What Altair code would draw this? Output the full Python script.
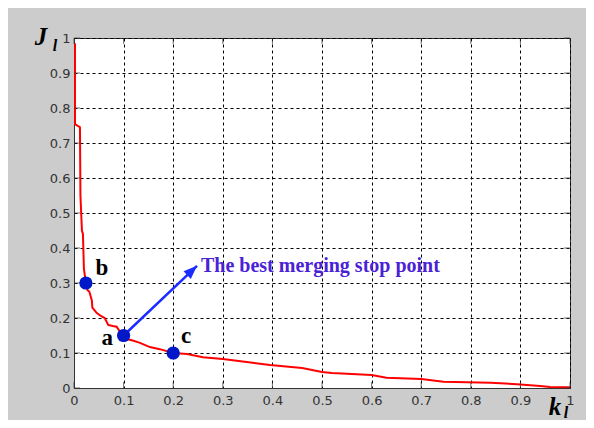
import altair as alt
import pandas as pd

# Curve J_l versus k_l
k_vals = [0.002, 0.002, 0.012, 0.013, 0.016, 0.018, 0.020, 0.024, 0.027, 0.031, 0.036, 0.037,
          0.046, 0.055, 0.062, 0.069, 0.078, 0.086, 0.093, 0.100, 0.107, 0.120, 0.133, 0.153,
          0.173, 0.200, 0.228, 0.26, 0.30, 0.36, 0.395, 0.46, 0.50, 0.52, 0.60, 0.63, 0.70,
          0.745, 0.84, 0.893, 0.94, 0.96, 1.0]
j_vals = [0.985, 0.754, 0.745, 0.55, 0.45, 0.44, 0.34, 0.30, 0.28, 0.275, 0.25, 0.23,
          0.214, 0.205, 0.20, 0.18, 0.177, 0.175, 0.16, 0.15, 0.14, 0.135, 0.129, 0.117,
          0.111, 0.10, 0.097, 0.088, 0.083, 0.072, 0.066, 0.057, 0.046, 0.043, 0.037, 0.029, 0.026,
          0.018, 0.015, 0.011, 0.006, 0.003, 0.002]

# Marked points
pt_names = ["b", "a", "c"]
pt_k = [0.024, 0.100, 0.200]
pt_j = [0.300, 0.150, 0.100]

# Point labels
lab_text = ["b", "a", "c"]
lab_k = [0.056, 0.067, 0.226]
lab_j = [0.323, 0.123, 0.129]

# Arrow from point a to the note
arrow_k = [0.100]
arrow_j = [0.150]
arrow_k2 = [0.248]
arrow_j2 = [0.349]
note_text = ["The best merging stop point"]
note_k = [0.256]
note_j = [0.331]

ticks = [0, 0.1, 0.2, 0.3, 0.4, 0.5, 0.6, 0.7, 0.8, 0.9, 1.0]

W, H = 496, 350

curve_df = pd.DataFrame({"k": k_vals, "J": j_vals, "i": list(range(len(k_vals)))})
pts_df = pd.DataFrame({"name": pt_names, "k": pt_k, "J": pt_j})
lab_df = pd.DataFrame({"t": lab_text, "k": lab_k, "J": lab_j})
arrow_df = pd.DataFrame({"k": arrow_k, "J": arrow_j, "k2": arrow_k2, "J2": arrow_j2})
note_df = pd.DataFrame({"t": note_text, "k": note_k, "J": note_j})
tick_df = pd.DataFrame({"v": ticks})

xs = alt.Scale(domain=[0, 1], nice=False)
ys = alt.Scale(domain=[0, 1], nice=False)

axis_common = dict(values=ticks, format=".1~f", grid=True, gridDash=[3, 3], gridColor="#000000",
                   gridOpacity=1, gridWidth=1, ticks=False, title=None,
                   labelFont="DejaVu Sans", labelFontSize=13, labelColor="#333333",
                   domainColor="#333333", labelFlush=False, labelOverlap=False,
                   labelSeparation=0, tickCount=11)
xaxis = alt.Axis(labelPadding=6, **axis_common)
yaxis = alt.Axis(labelPadding=4, **axis_common)


def X(f):
    return alt.X(f, scale=xs, axis=xaxis)


def Y(f):
    return alt.Y(f, scale=ys, axis=yaxis)


base = alt.Chart(curve_df).mark_line(color="#ff0000", strokeWidth=2).encode(
    x=X("k:Q"), y=Y("J:Q"), order="i:Q")

tick_style = dict(color="#333333", thickness=1, size=6)
xt_bottom = alt.Chart(tick_df).mark_tick(**tick_style).encode(x=X("v:Q"), y=alt.value(H - 3))
xt_top = alt.Chart(tick_df).mark_tick(**tick_style).encode(x=X("v:Q"), y=alt.value(3))
yt_left = alt.Chart(tick_df).mark_tick(**tick_style).encode(y=Y("v:Q"), x=alt.value(3))
yt_right = alt.Chart(tick_df).mark_tick(**tick_style).encode(y=Y("v:Q"), x=alt.value(W - 3))

arrow_line = alt.Chart(arrow_df).mark_rule(color="#1a2cff", strokeWidth=2.5).encode(
    x=X("k:Q"), y=Y("J:Q"), x2="k2:Q", y2="J2:Q")
arrow_head = alt.Chart(arrow_df).mark_point(
    shape="M0,0L-0.75,1.9L0.75,1.9Z", filled=True, color="#1a2cff", opacity=1,
    size=200, angle=47).encode(x=X("k2:Q"), y=Y("J2:Q"))

dots = alt.Chart(pts_df).mark_circle(color="#0018c8", opacity=1, size=175).encode(
    x=X("k:Q"), y=Y("J:Q"))

labels = alt.Chart(lab_df).mark_text(font="Liberation Serif", fontWeight="bold", fontSize=23,
                                     color="#000000", align="center", baseline="alphabetic").encode(
    x=X("k:Q"), y=Y("J:Q"), text="t:N")

note = alt.Chart(note_df).mark_text(font="Liberation Serif", fontWeight="bold", fontSize=20,
                                    color="#4a22d6", align="left", baseline="alphabetic").encode(
    x=X("k:Q"), y=Y("J:Q"), text="t:N")


def sym(t, x, y, size):
    return alt.Chart(pd.DataFrame({"t": [t]})).mark_text(
        font="Liberation Serif", fontWeight="bold", fontStyle="italic", fontSize=size,
        color="#000000", align="center", baseline="alphabetic").encode(
        x=alt.value(x), y=alt.value(y), text="t:N")


j_main = sym("J", -33, 7, 25)
j_sub = sym("l", -19, 13, 16)
k_main = sym("k", 481, 377, 25)
k_sub = sym("l", 492, 380, 16)

chart = alt.layer(
    base, xt_bottom, xt_top, yt_left, yt_right, arrow_line, arrow_head, dots, labels, note,
    j_main, j_sub, k_main, k_sub
).properties(
    width=W, height=H,
    autosize=alt.AutoSizeParams(type="none"),
    padding={"left": 66, "top": 30, "right": 16, "bottom": 32},
    background="#cccccc",
).configure_view(
    stroke="#333333", strokeWidth=1, fill="#ffffff"
).configure_axis(
    labelOverlap=False
)

chart.save("out.html", embed_options={"renderer": "svg", "actions": False})
